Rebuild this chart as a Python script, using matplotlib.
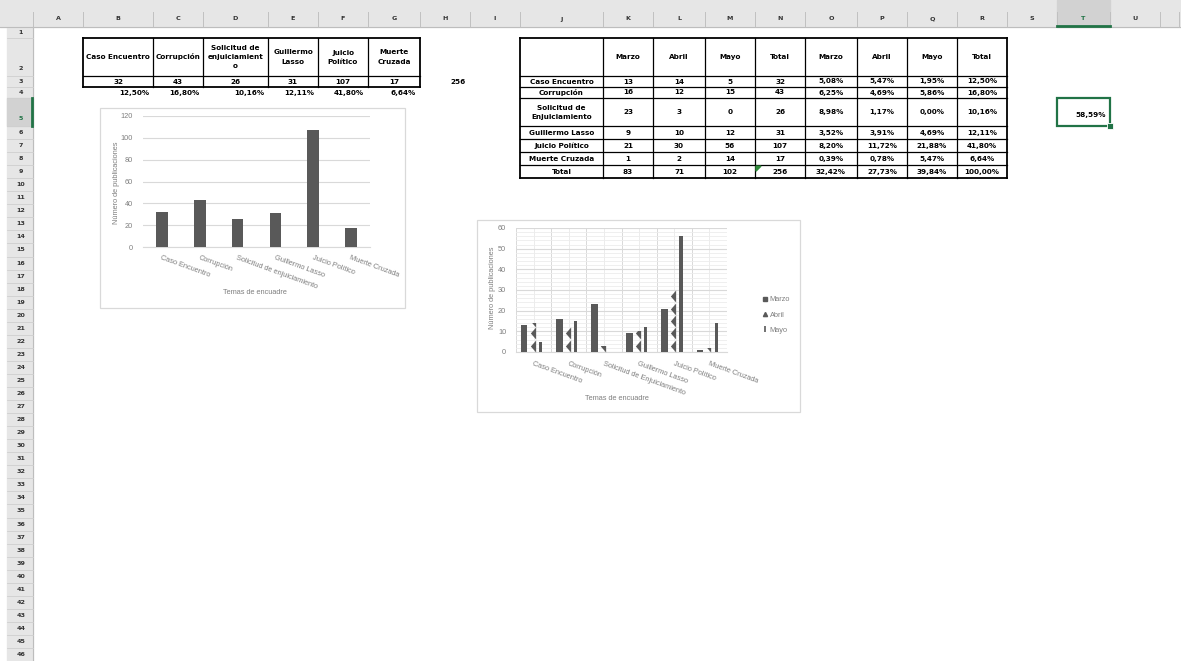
import numpy as np
import matplotlib.pyplot as plt
from matplotlib.patches import Rectangle, Polygon
from matplotlib.lines import Line2D
from matplotlib.path import Path

# datos de la hoja
temas = ['Caso Encuentro', 'Corrupción', 'Solicitud de enjuiciamiento',
         'Guillermo Lasso', 'Juicio Político', 'Muerte Cruzada']
temas2 = ['Caso Encuentro', 'Corrupción', 'Solicitud de Enjuiciamiento',
          'Guillermo Lasso', 'Juicio Político', 'Muerte Cruzada']
encabezados = ['Caso Encuentro', 'Corrupción', 'Solicitud de\nenjuiciamient\no',
               'Guillermo\nLasso', 'Juicio\nPolítico', 'Muerte\nCruzada']
filas_tabla2 = ['Caso Encuentro', 'Corrupción', 'Solicitud de\nEnjuiciamiento',
                'Guillermo Lasso', 'Juicio Político', 'Muerte Cruzada', 'Total']
totales = [32, 43, 26, 31, 107, 17]
total_general = 256
porcentajes = ['12,50%', '16,80%', '10,16%', '12,11%', '41,80%', '6,64%']

meses = ['Marzo', 'Abril', 'Mayo']
cols_tabla2 = ['Marzo', 'Abril', 'Mayo', 'Total', 'Marzo', 'Abril', 'Mayo', 'Total']
marzo = [13, 16, 23, 9, 21, 1]
abril = [14, 12, 3, 10, 30, 2]
mayo = [5, 15, 0, 12, 56, 14]
pct_marzo = ['5,08%', '6,25%', '8,98%', '3,52%', '8,20%', '0,39%']
pct_abril = ['5,47%', '4,69%', '1,17%', '3,91%', '11,72%', '0,78%']
pct_mayo = ['1,95%', '5,86%', '0,00%', '4,69%', '21,88%', '5,47%']
pct_total = ['12,50%', '16,80%', '10,16%', '12,11%', '41,80%', '6,64%']
fila_total = ['83', '71', '102', '256', '32,42%', '27,73%', '39,84%', '100,00%']
celda_t5 = '58,59%'

W, H = 1181, 661
fig = plt.figure(figsize=(W / 100, H / 100), dpi=100)
bg = fig.add_axes([0, 0, 1, 1])
bg.set_xlim(0, W)
bg.set_ylim(H, 0)
bg.axis('off')

verde = '#217346'
gris = '#595959'
txt = '#7f7f7f'

# --- cabeceras de filas y columnas ---
col_edges = [33, 83, 153, 203, 268, 318, 368, 420, 470, 520, 603, 653, 705,
             755, 805, 857, 907, 957, 1007, 1057, 1110, 1160]
col_names = list('ABCDEFGHIJKLMNOPQRSTU')
row_edges = [27, 38, 76, 87, 98, 126] + [126 + 13.05 * k for k in range(1, 42)]

bg.add_patch(Rectangle((0, 0), W, 27, color='#e6e6e6', zorder=0))
bg.add_patch(Rectangle((7, 27), 26, H - 27, color='#e6e6e6', zorder=0))
bg.add_patch(Rectangle((1057, 0), 53, 27, color='#d2d2d2', zorder=0))
bg.add_patch(Rectangle((7, 98), 26, 28, color='#d2d2d2', zorder=0))
bg.plot([0, W], [27, 27], color='#bdbdbd', lw=0.8)
bg.plot([33, 33], [27, H], color='#bdbdbd', lw=0.8)
for x in col_edges + [W - 2]:
    bg.plot([x, x], [12, 27], color='#c0c0c0', lw=0.7)
for y in row_edges[1:]:
    bg.plot([7, 33], [y, y], color='#cfcfcf', lw=0.6)
for i, name in enumerate(col_names):
    c = verde if name == 'T' else '#333333'
    bg.text((col_edges[i] + col_edges[i + 1]) / 2, 19, name, ha='center', va='center',
            fontsize=4.6, fontweight='bold', color=c)
for i in range(46):
    c = verde if i == 4 else '#333333'
    yc = (row_edges[i] + row_edges[i + 1]) / 2
    if i == 1 or i == 4:
        yc = row_edges[i + 1] - 7
    bg.text(21, yc, str(i + 1), ha='center', va='center', fontsize=4.6,
            fontweight='bold', color=c)
bg.plot([1057, 1110], [26, 26], color=verde, lw=2)
bg.plot([32, 32], [98, 126], color=verde, lw=2)


def texto(x0, x1, y0, y1, s, ha='center', **kw):
    x = (x0 + x1) / 2 if ha == 'center' else x1 - 4
    bg.text(x, (y0 + y1) / 2, s, ha=ha, va='center', fontsize=5.2,
            fontweight='bold', linespacing=1.6, color='black', **kw)


def bordes(xs, ys):
    for k, y in enumerate(ys):
        lw = 1.3 if k in (0, len(ys) - 1) else 0.9
        bg.plot([xs[0], xs[-1]], [y, y], color='black', lw=lw, solid_capstyle='projecting')
    for k, x in enumerate(xs):
        lw = 1.3 if k in (0, len(xs) - 1) else 0.9
        bg.plot([x, x], [ys[0], ys[-1]], color='black', lw=lw, solid_capstyle='projecting')


# --- tabla 1 (B2:G4) ---
xs1 = col_edges[1:8]
for i in range(6):
    texto(xs1[i], xs1[i + 1], 38, 76, encabezados[i])
    texto(xs1[i], xs1[i + 1], 76, 87, str(totales[i]))
    texto(xs1[i], xs1[i + 1], 87, 98, porcentajes[i], ha='right')
bordes(xs1, [38, 76, 87])
texto(420, 470, 76, 87, str(total_general), ha='right')

# --- tabla 2 (J2:R9) ---
xs2 = col_edges[9:19]
ys2 = row_edges[1:10]
for j, c in enumerate(cols_tabla2):
    texto(xs2[j + 1], xs2[j + 2], ys2[0], ys2[1], c)
for i in range(7):
    y0, y1 = ys2[i + 1], ys2[i + 2]
    texto(xs2[0], xs2[1], y0, y1, filas_tabla2[i])
    if i < 6:
        vals = [marzo[i], abril[i], mayo[i], totales[i],
                pct_marzo[i], pct_abril[i], pct_mayo[i], pct_total[i]]
    else:
        vals = fila_total
    for j, v in enumerate(vals):
        texto(xs2[j + 1], xs2[j + 2], y0, y1, str(v))
bordes(xs2, ys2)
bg.add_patch(Polygon([[756, ys2[7] + 1], [761, ys2[7] + 1], [756, ys2[7] + 6]],
                     color='#2e8b3a', zorder=5))

# celda seleccionada T5
texto(1057, 1110, 104, 126, celda_t5, ha='right')
bg.add_patch(Rectangle((1057, 98), 53, 28, fill=False, ec=verde, lw=1.6, zorder=6))
bg.add_patch(Rectangle((1107, 123), 6, 6, fc=verde, ec='white', lw=0.6, zorder=7))

# --- marcos de los graficos ---
bg.add_patch(Rectangle((100, 108), 305, 200, fc='white', ec='#d9d9d9', lw=0.9, zorder=3))
bg.add_patch(Rectangle((477, 220), 323, 192, fc='white', ec='#d9d9d9', lw=0.9, zorder=3))


def ejes(x0, x1, y0, y1):
    return fig.add_axes([x0 / W, 1 - y1 / H, (x1 - x0) / W, (y1 - y0) / H])


fs = 5.3
cfont = 'Liberation Sans'

# --- grafico 1 ---
ax1 = ejes(143, 370, 116, 247)
ax1.set_facecolor('none')
x = np.arange(len(temas))
ax1.bar(x, totales, width=0.31, color=gris, zorder=3)
ax1.set_xlim(-0.5, 5.5)
ax1.set_ylim(0, 120)
ax1.set_yticks(np.arange(0, 121, 20))
ax1.grid(axis='y', color='#d9d9d9', lw=0.8)
ax1.set_axisbelow(True)
for s in ax1.spines.values():
    s.set_visible(False)
ax1.spines['bottom'].set_visible(True)
ax1.spines['bottom'].set_color('#d9d9d9')
ax1.set_xticks(x)
ax1.set_xticklabels(temas, rotation=-20, ha='left', va='top', rotation_mode='anchor')
ax1.tick_params(length=0, labelsize=fs, labelcolor=txt, pad=5)
ax1.tick_params(axis='y', pad=7)
for t in ax1.get_xticklabels() + ax1.get_yticklabels():
    t.set_family(cfont)
fig.text(117 / W, 1 - 183 / H, 'Número de publicaciones', rotation=90, ha='center',
         va='center', fontsize=fs, color=txt, family=cfont)
fig.text(255 / W, 1 - 292 / H, 'Temas de encuadre', ha='center', va='center',
         fontsize=fs, color=txt, family=cfont)

# --- grafico 2 ---
ax2 = ejes(516, 727, 228, 352)
ax2.set_facecolor('none')
ax2.set_xlim(-0.5, 5.5)
ax2.set_ylim(0, 60)
ax2.set_yticks(np.arange(0, 61, 10))
ax2.set_yticks(np.arange(0, 61, 2), minor=True)
ax2.grid(axis='y', which='major', color='#d9d9d9', lw=0.8)
ax2.grid(axis='y', which='minor', color='#ececec', lw=0.6)
for xv in np.arange(-0.5, 6, 0.5):
    ax2.axvline(xv, color='#d9d9d9' if xv % 1 else '#ececec', lw=0.7, zorder=0)
ax2.set_axisbelow(True)
for s in ax2.spines.values():
    s.set_visible(False)
ax2.spines['bottom'].set_visible(True)
ax2.spines['bottom'].set_color('#d9d9d9')

ax2.bar(x - 0.27, marzo, width=0.19, color=gris, zorder=3)
ax2.bar(x + 0.19, mayo, width=0.09, color=gris, zorder=3)
barras_abril = ax2.bar(x - 0.03, abril, width=0.2, color='none', zorder=3)
diente = Path([(0.22, 0.5), (-0.22, 0.0), (0.22, -0.5), (0.22, 0.5)])
for rect, v, xi in zip(barras_abril, abril, x):
    if v <= 0:
        continue
    ys = np.arange(3, v + 3, 6)
    sc = ax2.scatter(np.full(len(ys), xi - 0.03), ys, marker=diente, s=75,
                     color=gris, lw=0, zorder=4)
    sc.set_clip_path(rect)

ax2.set_xticks(x)
ax2.set_xticklabels(temas2, rotation=-20, ha='left', va='top', rotation_mode='anchor')
ax2.tick_params(length=0, labelsize=fs, labelcolor=txt, pad=6)
ax2.tick_params(axis='y', pad=7)
ax2.tick_params(which='minor', length=0)
for t in ax2.get_xticklabels() + ax2.get_yticklabels():
    t.set_family(cfont)
fig.text(493 / W, 1 - 288 / H, 'Número de publicaciones', rotation=90, ha='center',
         va='center', fontsize=fs, color=txt, family=cfont)
fig.text(617 / W, 1 - 398 / H, 'Temas de encuadre', ha='center', va='center',
         fontsize=fs, color=txt, family=cfont)

handles = [Line2D([], [], ls='none', marker='s', ms=2.5, color=gris),
           Line2D([], [], ls='none', marker='^', ms=3, color=gris),
           Line2D([], [], ls='none', marker='|', ms=5, mew=1.2, color=gris)]
leg = fig.legend(handles, meses, loc='center left', bbox_to_anchor=(758 / W, 1 - 315 / H),
                 frameon=False, prop={'family': cfont, 'size': fs}, labelcolor=txt,
                 handlelength=0.8, handletextpad=0.3, labelspacing=1.1, borderpad=0)

fig.savefig('out.png', dpi=100)
